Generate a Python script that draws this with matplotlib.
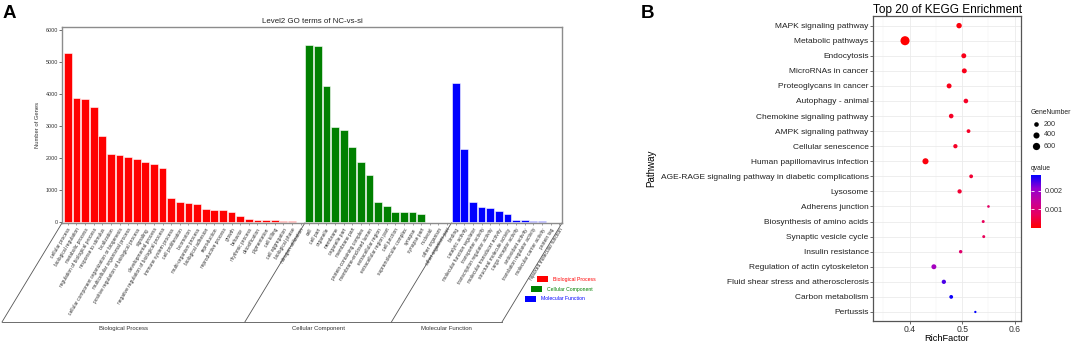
"""Level2 GO bar chart (A) and KEGG top-20 enrichment dot plot (B)."""

import matplotlib
matplotlib.use("Agg")
import matplotlib.pyplot as plt
import numpy as np
from matplotlib.colors import LinearSegmentedColormap, Normalize
from matplotlib.patches import Rectangle

plt.rcParams["font.family"] = ["Liberation Sans", "DejaVu Sans"]

W, H = 1072, 343

# ---- panel A data (Level2 GO terms) ----
bp_terms = ["cellular process", "biological regulation", "metabolic process",
            "regulation of biological process", "response to stimulus", "localization",
            "cellular component organization or biogenesis", "multicellular organismal process",
            "positive regulation of biological process", "signaling", "developmental process",
            "negative regulation of biological process", "immune system process",
            "cell proliferation", "locomotion", "multi-organism process", "biological adhesion",
            "reproduction", "reproductive process", "growth", "behavior", "rhythmic process",
            "detoxification", "pigmentation", "cell killing", "cell aggregation",
            "biological phase", "nitrogen utilization"]
bp_counts = [5275, 3863, 3842, 3603, 2679, 2129, 2098, 2025, 1963, 1880, 1817, 1682,
             727, 623, 571, 540, 384, 353, 353, 301, 187, 73, 52, 42, 42, 20, 10, 4]

cc_terms = ["cell", "cell part", "organelle", "membrane", "organelle part", "membrane part",
            "protein-containing complex", "membrane-enclosed lumen", "extracellular region",
            "extracellular region part", "cell junction", "supramolecular complex", "synapse",
            "synapse part", "nucleoid", "other organism", "other organism part"]
cc_counts = [5535, 5500, 4247, 2970, 2855, 2336, 1859, 1454, 623, 488, 311, 311, 290, 240,
             6, 5, 5]

mf_terms = ["binding", "catalytic activity", "molecular function regulator",
            "transporter activity", "transcription regulator activity",
            "molecular transducer activity", "structural molecule activity",
            "cargo receptor activity", "antioxidant activity", "translation regulator activity",
            "molecular carrier activity", "protein tag", "hijacked molecular function"]
mf_counts = [4330, 2264, 623, 446, 436, 322, 228, 50, 42, 30, 18, 3, 1]

go_groups = ["Biological Process", "Cellular Component", "Molecular Function"]
go_colors = ["#FF0000", "#008000", "#0000FF"]

# ---- panel B data (KEGG top 20) ----
pathways = ["MAPK signaling pathway", "Metabolic pathways", "Endocytosis",
            "MicroRNAs in cancer", "Proteoglycans in cancer", "Autophagy - animal",
            "Chemokine signaling pathway", "AMPK signaling pathway", "Cellular senescence",
            "Human papillomavirus infection",
            "AGE-RAGE signaling pathway in diabetic complications", "Lysosome",
            "Adherens junction", "Biosynthesis of amino acids", "Synaptic vesicle cycle",
            "Insulin resistance", "Regulation of actin cytoskeleton",
            "Fluid shear stress and atherosclerosis", "Carbon metabolism", "Pertussis"]
rich_factor = [0.494, 0.391, 0.503, 0.504, 0.475, 0.507, 0.479, 0.512, 0.487, 0.430,
               0.517, 0.495, 0.550, 0.540, 0.541, 0.497, 0.446, 0.465, 0.479, 0.525]
gene_number = [300, 1000, 240, 240, 240, 200, 200, 120, 165, 400,
               120, 165, 42, 60, 60, 92, 240, 165, 120, 26]
qvalue = [0.0001, 0.0, 0.0002, 0.0002, 0.0002, 0.0003, 0.0003, 0.0003, 0.0003, 0.0001,
          0.0004, 0.0004, 0.0008, 0.0007, 0.0007, 0.0009, 0.0019, 0.0025, 0.0028, 0.0029]
size_breaks = [200, 400, 600]
q_ticks = [0.001, 0.002]


def fx(px):
    return px / W


def fy(py):
    return 1 - py / H


def dot_area(n):
    d_px = 1.0 + 0.255 * np.sqrt(np.asarray(n, dtype=float))
    return (d_px * 0.72) ** 2


def main():
    fig = plt.figure(figsize=(W / 100, H / 100), dpi=100)

    # ---------------- panel A ----------------
    ax = fig.add_axes([fx(62), fy(223), fx(500), 196 / H])
    terms = bp_terms + cc_terms + mf_terms
    counts = bp_counts + cc_counts + mf_counts
    sizes = [len(bp_terms), len(cc_terms), len(mf_terms)]
    colors = sum([[c] * n for c, n in zip(go_colors, sizes)], [])
    x = np.arange(len(terms))
    ax.bar(x, counts, width=0.9, color=colors, edgecolor="white", linewidth=0.4)
    xmin, xmax = -0.67, len(terms) - 0.67
    ax.set_xlim(xmin, xmax)
    ax.set_ylim(-40, 6090)
    ax.set_yticks(range(0, 6001, 1000))
    ax.tick_params(axis="y", labelsize=3.9, length=2, width=0.5, pad=1, colors="#333333")
    ax.set_xticks(x)
    ax.set_xticklabels(terms, rotation=59, ha="right", rotation_mode="anchor",
                       fontsize=3.5, color="#333333")
    ax.tick_params(axis="x", length=1.5, width=0.4, pad=1.5, color="#555555")
    for s in ax.spines.values():
        s.set_color("#8c8c8c")
        s.set_linewidth(1.0)
    ax.set_ylabel("Number of Genes", fontsize=4.2, labelpad=4, color="#333333")
    ax.set_title("Level2 GO terms of NC-vs-si", fontsize=5.7, pad=3, color="#222222")

    # slanted frame under the labels
    dx, dy = -60 / 500, -99 / 196
    edges = [0.0]
    acc = 0
    for n in sizes[:-1]:
        acc += n
        edges.append((acc - 0.5 - xmin) / (xmax - xmin))
    edges.append(1.0)
    line_kw = dict(transform=ax.transAxes, clip_on=False, color="#555555", lw=0.6)
    for e in edges:
        ax.plot([e, e + dx], [0, dy], **line_kw)
    ax.plot([dx, 1 + dx], [dy, dy], **line_kw)
    for name, e0, e1 in zip(go_groups, edges[:-1], edges[1:]):
        ax.text((e0 + e1) / 2 + dx, dy - 0.018, name, transform=ax.transAxes,
                ha="center", va="top", fontsize=4.3, color="#333333")

    # ---------------- panel B ----------------
    ax2 = fig.add_axes([fx(873), fy(321), fx(148), 305 / H])
    cmap = LinearSegmentedColormap.from_list(
        "q", [(0, "#FF0000"), (0.25, "#E8005C"), (0.5, "#C5009A"),
              (0.75, "#9300D2"), (1, "#0000FF")])
    norm = Normalize(vmin=0, vmax=0.00286)
    yp = np.arange(len(pathways))[::-1]
    ax2.scatter(rich_factor, yp, s=dot_area(gene_number), c=qvalue, cmap=cmap, norm=norm,
                linewidths=0, zorder=3)
    ax2.set_yticks(yp)
    ax2.set_yticklabels(pathways, fontsize=6.0, color="#222222")
    ax2.set_ylim(-0.6, 19.64)
    ax2.set_xlim(0.33, 0.612)
    ax2.set_xticks([0.4, 0.5, 0.6])
    ax2.set_xticklabels(["0.4", "0.5", "0.6"], fontsize=6.2, color="#333333")
    ax2.set_xticks([0.35, 0.45, 0.55], minor=True)
    ax2.tick_params(which="minor", length=0)
    ax2.tick_params(which="major", length=2.2, width=0.5, color="#333333", pad=1)
    ax2.grid(which="major", color="#EBEBEB", lw=0.6)
    ax2.grid(which="minor", axis="x", color="#F2F2F2", lw=0.35)
    ax2.set_axisbelow(True)
    for s in ax2.spines.values():
        s.set_color("#555555")
        s.set_linewidth(0.9)
    ax2.set_xlabel("RichFactor", fontsize=6.7, labelpad=0)
    ax2.set_ylabel("Pathway", fontsize=7.1, labelpad=3)
    ax2.set_title("Top 20 of KEGG Enrichment", fontsize=8.5, loc="left", pad=2.5)

    # qvalue colour bar
    cax = fig.add_axes([fx(1031), fy(228), 10 / W, 53 / H])
    sm = plt.cm.ScalarMappable(norm=norm, cmap=cmap)
    cb = fig.colorbar(sm, cax=cax)
    cb.outline.set_visible(False)
    cb.set_ticks(q_ticks)
    cb.set_ticklabels([f"{t:.3f}" for t in q_ticks])
    cax.tick_params(axis="y", which="both", direction="in", left=True, right=True,
                    labelleft=False, labelright=True, color="white", length=2.5,
                    width=0.6, labelsize=5.2, pad=3, labelcolor="#333333")

    # overlay in pixel coordinates for legends and panel letters
    lay = fig.add_axes([0, 0, 1, 1], zorder=10)
    lay.set_xlim(0, W)
    lay.set_ylim(H, 0)
    lay.axis("off")

    lay.text(3, 5, "A", fontsize=13.5, fontweight="bold", va="top", ha="left")
    lay.text(641, 5, "B", fontsize=13.5, fontweight="bold", va="top", ha="left")

    # GO legend (staggered along the slant)
    for i, (name, c) in enumerate(zip(go_groups, go_colors)):
        x0, y0 = 537 - 6 * i, 276 + 10 * i
        lay.add_patch(Rectangle((x0, y0), 11, 6, color=c, lw=0))
        lay.text(x0 + 16, y0 + 3, name, color=c, fontsize=3.7, va="center", ha="left")

    # GeneNumber legend
    lay.text(1031, 113, "GeneNumber", fontsize=4.9, va="center", ha="left", color="#222222")
    for i, n in enumerate(size_breaks):
        yy = 124 + 11 * i
        lay.scatter([1036.3], [yy], s=dot_area(n), color="black", linewidths=0)
        lay.text(1044, yy, str(n), fontsize=5.2, va="center", ha="left", color="#333333")
    lay.text(1031, 169, "qvalue", fontsize=4.9, va="center", ha="left", color="#222222")

    fig.savefig("out.png", dpi=100)
    plt.close(fig)


if __name__ == "__main__":
    main()
